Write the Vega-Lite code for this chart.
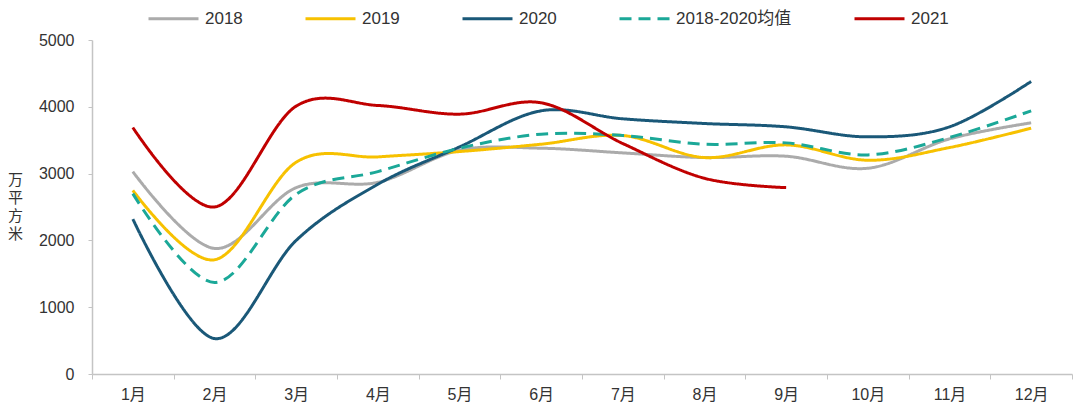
{
  "$schema": "https://vega.github.io/schema/vega-lite/v6.json",
  "width": 980,
  "height": 334,
  "autosize": {"type": "none"},
  "padding": {"left": 92, "top": 40, "right": 8, "bottom": 37},
  "background": "white",
  "data": {
    "values": [
      {"series": "2018", "month": "1月", "value": 3030},
      {"series": "2018", "month": "2月", "value": 1880},
      {"series": "2018", "month": "3月", "value": 2790},
      {"series": "2018", "month": "4月", "value": 2870},
      {"series": "2018", "month": "5月", "value": 3350},
      {"series": "2018", "month": "6月", "value": 3380},
      {"series": "2018", "month": "7月", "value": 3310},
      {"series": "2018", "month": "8月", "value": 3240},
      {"series": "2018", "month": "9月", "value": 3260},
      {"series": "2018", "month": "10月", "value": 3080},
      {"series": "2018", "month": "11月", "value": 3520},
      {"series": "2018", "month": "12月", "value": 3760},
      {"series": "2019", "month": "1月", "value": 2750},
      {"series": "2019", "month": "2月", "value": 1710},
      {"series": "2019", "month": "3月", "value": 3170},
      {"series": "2019", "month": "4月", "value": 3250},
      {"series": "2019", "month": "5月", "value": 3330},
      {"series": "2019", "month": "6月", "value": 3440},
      {"series": "2019", "month": "7月", "value": 3570},
      {"series": "2019", "month": "8月", "value": 3240},
      {"series": "2019", "month": "9月", "value": 3430},
      {"series": "2019", "month": "10月", "value": 3200},
      {"series": "2019", "month": "11月", "value": 3390},
      {"series": "2019", "month": "12月", "value": 3680},
      {"series": "2020", "month": "1月", "value": 2320},
      {"series": "2020", "month": "2月", "value": 530},
      {"series": "2020", "month": "3月", "value": 2000},
      {"series": "2020", "month": "4月", "value": 2840},
      {"series": "2020", "month": "5月", "value": 3400},
      {"series": "2020", "month": "6月", "value": 3940},
      {"series": "2020", "month": "7月", "value": 3820},
      {"series": "2020", "month": "8月", "value": 3750},
      {"series": "2020", "month": "9月", "value": 3700},
      {"series": "2020", "month": "10月", "value": 3550},
      {"series": "2020", "month": "11月", "value": 3700},
      {"series": "2020", "month": "12月", "value": 4380},
      {"series": "2018-2020均值", "month": "1月", "value": 2700},
      {"series": "2018-2020均值", "month": "2月", "value": 1370},
      {"series": "2018-2020均值", "month": "3月", "value": 2690},
      {"series": "2018-2020均值", "month": "4月", "value": 3030},
      {"series": "2018-2020均值", "month": "5月", "value": 3380},
      {"series": "2018-2020均值", "month": "6月", "value": 3590},
      {"series": "2018-2020均值", "month": "7月", "value": 3570},
      {"series": "2018-2020均值", "month": "8月", "value": 3440},
      {"series": "2018-2020均值", "month": "9月", "value": 3460},
      {"series": "2018-2020均值", "month": "10月", "value": 3280},
      {"series": "2018-2020均值", "month": "11月", "value": 3540},
      {"series": "2018-2020均值", "month": "12月", "value": 3940},
      {"series": "2021", "month": "1月", "value": 3690},
      {"series": "2021", "month": "2月", "value": 2500},
      {"series": "2021", "month": "3月", "value": 4010},
      {"series": "2021", "month": "4月", "value": 4020},
      {"series": "2021", "month": "5月", "value": 3890},
      {"series": "2021", "month": "6月", "value": 4060},
      {"series": "2021", "month": "7月", "value": 3450},
      {"series": "2021", "month": "8月", "value": 2930},
      {"series": "2021", "month": "9月", "value": 2790}
    ]
  },
  "mark": {"type": "line", "interpolate": "cardinal", "strokeWidth": 3},
  "encoding": {
    "x": {
      "field": "month",
      "type": "nominal",
      "sort": ["1月", "2月", "3月", "4月", "5月", "6月", "7月", "8月", "9月", "10月", "11月", "12月"],
      "scale": {"type": "band", "paddingInner": 0, "paddingOuter": 0},
      "axis": {
        "title": null,
        "labelAngle": 0,
        "tickBand": "extent",
        "tickSize": 5,
        "labelPadding": 7,
        "grid": false
      }
    },
    "y": {
      "field": "value",
      "type": "quantitative",
      "scale": {"domain": [0, 5000], "nice": false},
      "axis": {
        "values": [0, 1000, 2000, 3000, 4000, 5000],
        "format": "d",
        "title": ["万", "平", "方", "米"],
        "titleAngle": 0,
        "titleAlign": "center",
        "titleBaseline": "top",
        "titleX": -77,
        "titleY": 132,
        "titleFontSize": 15,
        "titleLineHeight": 18,
        "titleFontWeight": "normal",
        "tickSize": 4,
        "labelPadding": 14,
        "grid": false
      }
    },
    "color": {
      "field": "series",
      "type": "nominal",
      "sort": ["2018", "2019", "2020", "2018-2020均值", "2021"],
      "scale": {
        "domain": ["2018", "2019", "2020", "2018-2020均值", "2021"],
        "range": ["#ababab", "#f7c100", "#1a5878", "#1ba898", "#c00000"]
      },
      "legend": {
        "title": null,
        "orient": "none",
        "direction": "horizontal",
        "legendX": 55,
        "legendY": -48,
        "symbolType": "stroke",
        "symbolSize": 2500,
        "symbolStrokeWidth": 3,
        "labelFontSize": 17,
        "labelOffset": 5,
        "columnPadding": 56
      }
    },
    "strokeDash": {
      "field": "series",
      "type": "nominal",
      "sort": ["2018", "2019", "2020", "2018-2020均值", "2021"],
      "scale": {
        "domain": ["2018", "2019", "2020", "2018-2020均值", "2021"],
        "range": [[1, 0], [1, 0], [1, 0], [12, 7], [1, 0]]
      },
      "legend": {
        "title": null,
        "orient": "none",
        "direction": "horizontal",
        "legendX": 55,
        "legendY": -48,
        "symbolType": "stroke",
        "symbolSize": 2500,
        "symbolStrokeWidth": 3,
        "labelFontSize": 17,
        "labelOffset": 5,
        "columnPadding": 56
      }
    }
  },
  "config": {
    "font": "Liberation Sans, Noto Sans CJK SC, sans-serif",
    "view": {"stroke": null},
    "axis": {
      "domainColor": "#c4c4c4",
      "tickColor": "#c4c4c4",
      "domainWidth": 1.5,
      "labelColor": "#333333",
      "labelFontSize": 16,
      "titleColor": "#333333"
    },
    "legend": {"labelColor": "#333333"}
  }
}
